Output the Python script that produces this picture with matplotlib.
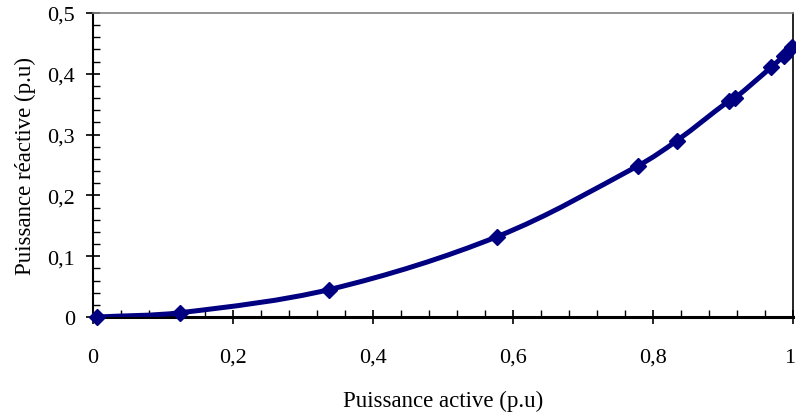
import matplotlib
matplotlib.use("Agg")
import matplotlib.pyplot as plt
import numpy as np
from matplotlib.path import Path
from matplotlib.patches import PathPatch
from matplotlib.ticker import MultipleLocator, FuncFormatter

P_active = [0.006, 0.124, 0.337, 0.577, 0.779, 0.834, 0.908, 0.917, 0.969, 0.987, 0.998]
Q_reactive = [0.0, 0.007, 0.045, 0.132, 0.249, 0.290, 0.355, 0.360, 0.411, 0.430, 0.444]
x_label = "Puissance active (p.u)"
y_label = "Puissance réactive (p.u)"

color = "#000080"
plt.rcParams['font.family'] = ['Liberation Serif', 'DejaVu Serif']

fig = plt.figure(figsize=(7.96, 4.14), dpi=100)
ax = fig.add_axes([93/796, 1-318/414, (793-93)/796, (318-14)/414])
ax.set_xlim(0, 1)
ax.set_ylim(0, 0.5)

# smooth curve through the points (bezier, built in display-normalised space)
pts = np.column_stack([P_active, Q_reactive]) * np.array([1.0, 2.0])  # equalise axis scales
n = len(pts)

def tangent(i):
    a = pts[max(i-1, 0)]
    b = pts[min(i+1, n-1)]
    d = b - a
    return d / np.linalg.norm(d)

verts = [tuple(pts[0])]
codes = [Path.MOVETO]
for i in range(n-1):
    p1, p2 = pts[i], pts[i+1]
    L = np.linalg.norm(p2 - p1)
    c1 = p1 + tangent(i) * L / 3
    c2 = p2 - tangent(i+1) * L / 3
    verts += [tuple(c1), tuple(c2), tuple(p2)]
    codes += [Path.CURVE4]*3
verts = [(vx, vy / 2.0) for vx, vy in verts]
path = Path(verts, codes)
ax.add_patch(PathPatch(path, facecolor='none', edgecolor=color, lw=3.6, capstyle='round', joinstyle='round', zorder=3))
ax.plot(P_active, Q_reactive, linestyle='none', marker='D', color=color, markersize=8.5, zorder=4, clip_on=False)

ax.xaxis.set_major_locator(MultipleLocator(0.2))
ax.xaxis.set_minor_locator(MultipleLocator(0.04))
ax.yaxis.set_major_locator(MultipleLocator(0.1))
ax.yaxis.set_minor_locator(MultipleLocator(0.02))

def fmt(v, pos):
    if abs(v) < 1e-9:
        return "0"
    s = ("%.1f" % v).rstrip('0').rstrip('.')
    return s.replace('.', ',')

def xfmt(v, pos):
    if abs(v - 1) < 1e-9:
        return ""
    return fmt(v, pos)

ax.xaxis.set_major_formatter(FuncFormatter(xfmt))
ax.yaxis.set_major_formatter(FuncFormatter(fmt))

ax.tick_params(axis='x', which='major', direction='inout', length=10, width=1.2, pad=17, labelsize=16)
ax.tick_params(axis='x', which='minor', direction='in', length=5, width=1)
ax.tick_params(axis='y', which='major', direction='inout', length=10, width=1.2, pad=8, labelsize=16)
ax.tick_params(axis='y', which='minor', direction='in', length=5, width=1)

# last x tick label, nudged left so it stays inside the figure
ax.annotate("1", xy=(1, 0), xycoords=('data', 'axes fraction'), xytext=(-2.5, -22),
            textcoords='offset points', ha='center', va='top', fontsize=16, annotation_clip=False)

ax.spines['bottom'].set_linewidth(2.2)
ax.spines['left'].set_linewidth(1.5)
ax.spines['top'].set_color('#808080')
ax.spines['top'].set_linewidth(1.2)
ax.spines['right'].set_linewidth(1.2)

ax.set_xlabel(x_label, fontsize=16.5, labelpad=17)
ax.set_ylabel(y_label, fontsize=16.5, labelpad=8)

fig.savefig("out.png", dpi=100)
